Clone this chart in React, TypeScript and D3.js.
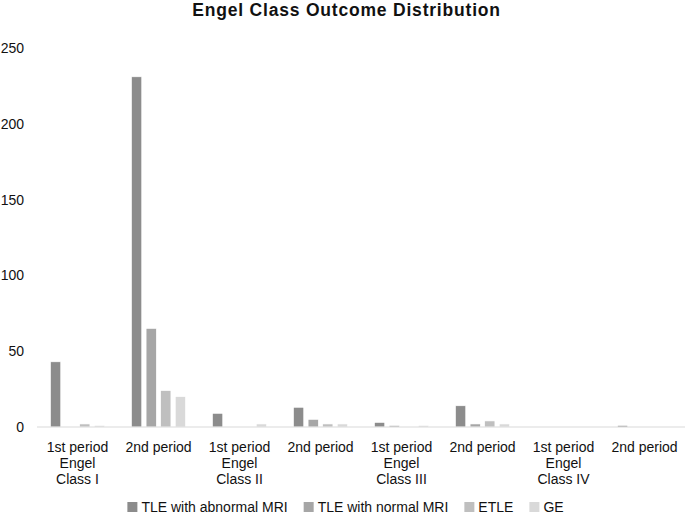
import React, { useEffect, useRef } from 'react';
import * as d3 from 'd3';

const categories = [
  ['1st period', 'Engel', 'Class I'],
  ['2nd period'],
  ['1st period', 'Engel', 'Class II'],
  ['2nd period'],
  ['1st period', 'Engel', 'Class III'],
  ['2nd period'],
  ['1st period', 'Engel', 'Class IV'],
  ['2nd period'],
];

const seriesNames = ['TLE with abnormal MRI', 'TLE with normal MRI', 'ETLE', 'GE'];
const seriesColors = ['#8c8c8c', '#a6a6a6', '#bfbfbf', '#d9d9d9'];

const tleAbnormal = [43, 231, 9, 13, 3, 14, 0, 1];
const tleNormal = [0, 65, 0, 5, 1, 2, 0, 0];
const etle = [2, 24, 0, 2, 0, 4, 0, 0];
const ge = [1, 20, 2, 2, 1, 2, 0, 0];

const yTicks = [0, 50, 100, 150, 200, 250];

const FONT = 'Liberation Sans, Arial, sans-serif';

const App: React.FC = () => {
  const svgRef = useRef<SVGSVGElement>(null);
  const width = 685;
  const height = 514;

  useEffect(() => {
    if (!svgRef.current) return;
    const svg = d3.select(svgRef.current);
    svg.selectAll('*').remove();

    const margin = { top: 48, right: 0, bottom: 87, left: 37 };
    const series = [tleAbnormal, tleNormal, etle, ge];

    const x0 = d3
      .scaleBand<number>()
      .domain(d3.range(categories.length))
      .range([margin.left, width - margin.right])
      .paddingInner(0.28)
      .paddingOuter(0.14);

    const x1 = d3
      .scaleBand<number>()
      .domain(d3.range(series.length))
      .range([0, x0.bandwidth()])
      .paddingInner(0.3)
      .paddingOuter(0.15);

    const y = d3
      .scaleLinear()
      .domain([0, 250])
      .range([height - margin.bottom, margin.top]);

    // Title
    svg
      .append('text')
      .attr('x', width / 2 + 4)
      .attr('y', 15.5)
      .attr('text-anchor', 'middle')
      .attr('font-family', FONT)
      .attr('font-size', 17.5)
      .attr('font-weight', 'bold')
      .attr('letter-spacing', 0.8)
      .attr('fill', '#111')
      .text('Engel Class Outcome Distribution');

    // Y tick labels
    svg
      .append('g')
      .selectAll('text')
      .data(yTicks)
      .join('text')
      .attr('x', 24)
      .attr('y', (d) => y(d))
      .attr('dy', '0.35em')
      .attr('text-anchor', 'end')
      .attr('font-family', FONT)
      .attr('font-size', 14)
      .attr('fill', '#111')
      .text((d) => d);

    // Bars
    const groups = svg
      .append('g')
      .selectAll('g')
      .data(categories.map((_, i) => i))
      .join('g')
      .attr('transform', (i) => `translate(${x0(i)},0)`);

    groups
      .selectAll('rect')
      .data((i) => series.map((s, k) => ({ k, v: s[i] })))
      .join('rect')
      .filter((d) => d.v > 0)
      .attr('x', (d) => x1(d.k) as number)
      .attr('y', (d) => y(d.v))
      .attr('width', x1.bandwidth())
      .attr('height', (d) => y(0) - y(d.v))
      .attr('fill', (d) => seriesColors[d.k])
      .attr('stroke', '#fff')
      .attr('stroke-width', 0.6);

    // Baseline
    svg
      .append('line')
      .attr('x1', margin.left)
      .attr('x2', width - margin.right)
      .attr('y1', y(0))
      .attr('y2', y(0))
      .attr('stroke', '#d9d9d9')
      .attr('stroke-width', 1.2);

    // Category labels
    const labels = svg
      .append('g')
      .selectAll('text')
      .data(categories)
      .join('text')
      .attr('x', (_, i) => (x0(i) as number) + x0.bandwidth() / 2)
      .attr('y', 452)
      .attr('text-anchor', 'middle')
      .attr('font-family', FONT)
      .attr('font-size', 14)
      .attr('fill', '#111');

    labels
      .selectAll('tspan')
      .data((d) => d)
      .join('tspan')
      .attr('x', function () {
        return (this.parentNode as SVGTextElement).getAttribute('x');
      })
      .attr('dy', (_, j) => (j === 0 ? 0 : 16))
      .text((d) => d);

    // Legend
    const legend = svg.append('g');
    const gap = 16;
    let offset = 0;
    seriesNames.forEach((name, k) => {
      const item = legend.append('g').attr('transform', `translate(${offset},0)`);
      item
        .append('rect')
        .attr('x', 0)
        .attr('y', -5)
        .attr('width', 10)
        .attr('height', 10)
        .attr('fill', seriesColors[k]);
      const t = item
        .append('text')
        .attr('x', 14)
        .attr('y', 0)
        .attr('dy', '0.35em')
        .attr('font-family', FONT)
        .attr('font-size', 14)
        .attr('fill', '#111')
        .text(name);
      const w = (t.node() as SVGTextElement).getComputedTextLength();
      offset += 14 + w + gap;
    });
    const total = offset - gap;
    legend.attr('transform', `translate(${(width - total) / 2 + 3},507)`);
  }, []);

  return (
    <svg
      ref={svgRef}
      width={width}
      height={height}
      style={{ position: 'absolute', left: 0, top: 0, background: '#fff' }}
    ></svg>
  );
};

export default App;
